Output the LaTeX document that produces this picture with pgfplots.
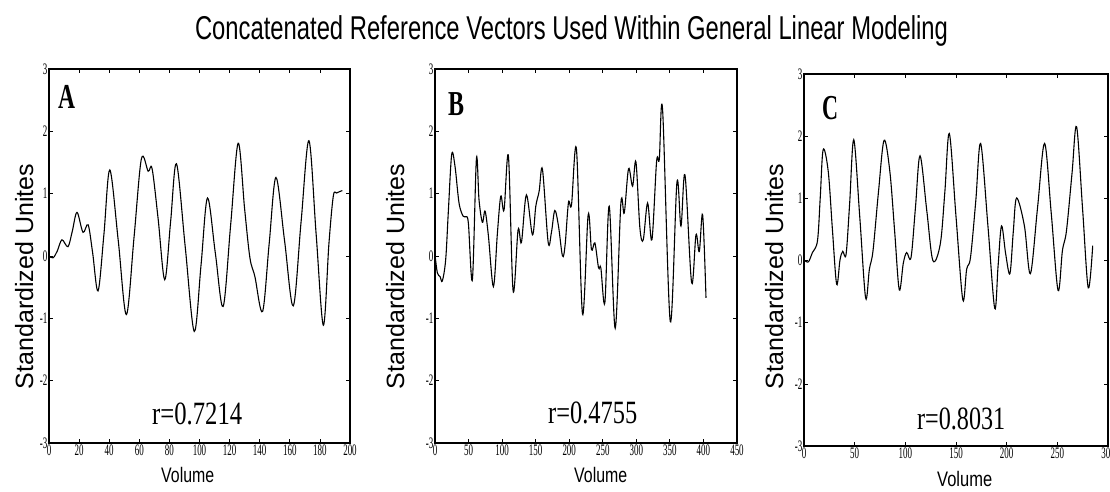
\documentclass[border=0pt]{standalone}
\usepackage{pgfplots}
\pgfplotsset{compat=1.18}
\usepackage{graphicx}
\usepackage{fontspec}
\setmainfont{Liberation Serif}
\newfontfamily\arial{Liberation Sans}
\newfontfamily\tickfont[FakeStretch=0.56]{Liberation Serif}

\pgfplotstableread{
x y
0 0.00
2.7 -0.03
5.5 0.08
8.6 0.26
12.6 0.15
15.5 0.40
18.6 0.70
22.6 0.38
26 0.50
29 0.05
32.6 -0.56
36.5 0.35
40.4 1.38
46 0.25
51.4 -0.94
56.5 0.30
61.4 1.56
65.9 1.36
68.5 1.40
72.5 0.60
76.9 -0.38
80.8 0.55
84.7 1.48
90.5 0.15
96.5 -1.21
101 -0.15
105.3 0.93
110.5 0.05
115.7 -0.81
120.7 0.50
125.7 1.81
130 0.75
133.5 -0.03
136.8 -0.33
141.9 -0.89
146.3 0.20
150.8 1.26
156.5 0.25
162.3 -0.80
167.5 0.55
172.7 1.85
177.5 0.35
182.3 -1.11
186 0.20
188.9 0.96
191.1 1.01
194.9 1.05
}\dataA

\pgfplotstableread{
x y
0 0.02
3.5 -0.27
7.5 -0.33
10.9 -0.40
15.9 -0.06
19.9 0.72
24.9 1.63
29.8 1.44
35.8 0.85
41.8 0.64
45.7 0.63
49.7 0.53
55.7 -0.38
61.7 1.56
65.6 0.90
70.6 0.54
74.6 0.72
79.6 0.32
87.0 -0.49
93 0.37
98 0.96
102.9 0.74
109.4 1.60
116.4 -0.56
123.8 0.42
128.8 0.22
136.2 0.98
145.2 0.34
150.2 0.80
155.2 1.04
160.1 1.39
168.6 0.22
173.5 0.38
178.5 0.73
184 0.48
190 0.00
193.9 0.18
198.9 0.86
203.4 0.82
210.8 1.71
219.8 -0.93
228.2 0.66
233.2 0.10
238.2 0.21
243.7 -0.19
247.1 -0.19
253.1 -0.75
259.6 0.80
268.5 -1.16
277 0.85
282 0.69
288.4 1.40
294.4 1.12
299.4 1.51
305.3 0.45
310.3 0.26
316.8 0.85
323.2 0.26
330.2 1.52
334.2 1.55
339.1 2.35
350.6 -1.05
360.5 1.18
366.5 0.48
372.5 1.30
382.4 -0.43
388.9 0.34
393.8 0.07
398.8 0.66
403.8 -0.67
}\dataB

\pgfplotstableread{
x y
0 0
4.3 -0.03
8.3 0.12
13.3 0.31
16 1.0
18.9 1.78
23.9 1.43
28 0.5
32.2 -0.39
35.5 0.0
38.2 0.14
41.5 0.09
45 0.9
49.1 1.94
55 0.7
60.8 -0.61
64.5 -0.15
68.1 0.15
73.5 1.1
79 1.93
84.7 1.43
89.5 0.45
94 -0.48
98 -0.05
101.3 0.12
105.6 0.04
110 0.85
114.5 1.68
121.2 0.79
127.2 -0.01
134.5 0.26
139 1.1
143.4 2.04
150 0.7
156.7 -0.64
160.5 -0.15
164.3 0.04
169.5 0.95
174.3 1.88
181.5 0.55
188.2 -0.78
191.5 -0.1
194.9 0.55
199 0.1
203.2 -0.22
206.5 0.45
209.8 1.00
217.5 0.55
223.4 -0.22
230.5 0.85
237.4 1.88
244 0.75
250.7 -0.49
255 0.15
259 0.47
264.5 1.4
269 2.15
275 0.8
280.5 -0.45
284.9 0.23
}\dataC

\pgfplotsset{
  panel/.style={
    anchor=south west,
    scale only axis,
    ymin=-3, ymax=3,
    ytick={-3,-2,-1,0,1,2,3},
    yticklabels={-3,-2,-1,0,1,2,3},
    tick align=inside,
    major tick length=4pt,
    axis line style={line width=1.1pt, black},
    every tick/.style={black, line width=0.8pt},
    tick label style={font=\tickfont\fontsize{16}{16}\selectfont, black},
    yticklabel style={inner sep=1.5pt},
    xticklabel style={inner sep=2pt},
    clip=true,
  },
  curve/.style={black, line width=1.1pt, smooth, tension=0.55, no markers},
}

\begin{document}
\begin{tikzpicture}[x=1pt,y=1pt]
\path[use as bounding box] (0,0) rectangle (1110,492);

% Title
\node[anchor=base] at (571.5,452) {\resizebox{753pt}{\height}{\arial\fontsize{33}{33}\selectfont Concatenated Reference Vectors Used Within General Linear Modeling}};

% Panel A
\begin{axis}[panel, at={(49pt,49pt)}, width=301pt, height=374pt,
  xmin=0, xmax=200, xtick={0,20,...,200},
  xticklabels={0,20,40,60,80,100,120,140,160,180,200}]
\addplot[curve] table[x=x,y=y] {\dataA};
\end{axis}

% Panel B
\begin{axis}[panel, at={(435pt,49pt)}, width=302pt, height=374pt,
  xmin=0, xmax=450, xtick={0,50,...,450},
  xticklabels={0,50,100,150,200,250,300,350,400,450}]
\addplot[curve] table[x=x,y=y] {\dataB};
\end{axis}

% Panel C
\begin{axis}[panel, at={(804pt,46pt)}, width=304pt, height=372pt,
  xmin=0, xmax=300, xtick={0,50,...,300},
  xticklabels={0,50,100,150,200,250,300}]
\addplot[curve] table[x=x,y=y] {\dataC};
\end{axis}

% Panel letters
\node[anchor=north west, inner sep=0pt] at (58,407) {\resizebox{17pt}{\height}{\bfseries\fontsize{35}{35}\selectfont A}};
\node[anchor=north west, inner sep=0pt] at (448,400) {\resizebox{16pt}{\height}{\bfseries\fontsize{35}{35}\selectfont B}};
\node[anchor=north west, inner sep=0pt] at (822,396) {\resizebox{16pt}{\height}{\bfseries\fontsize{35}{35}\selectfont C}};

% r values
\node[anchor=base west, inner sep=0pt] at (152,67) {\resizebox{90pt}{\height}{\fontsize{32.5}{32.5}\selectfont r=0.7214}};
\node[anchor=base west, inner sep=0pt] at (548,68) {\resizebox{89pt}{\height}{\fontsize{32.5}{32.5}\selectfont r=0.4755}};
\node[anchor=base west, inner sep=0pt] at (917,62) {\resizebox{88pt}{\height}{\fontsize{32.5}{32.5}\selectfont r=0.8031}};

% x labels
\node[anchor=base west, inner sep=0pt] at (161,9) {\resizebox{53pt}{\height}{\arial\fontsize{21}{21}\selectfont Volume}};
\node[anchor=base west, inner sep=0pt] at (574,9) {\resizebox{53pt}{\height}{\arial\fontsize{21}{21}\selectfont Volume}};
\node[anchor=base west, inner sep=0pt] at (937,5) {\resizebox{55pt}{\height}{\arial\fontsize{21}{21}\selectfont Volume}};

% y labels
\node[anchor=base, rotate=90, inner sep=0pt] at (33,215.5) {\arial\fontsize{25}{25}\selectfont Standardized Unites};
\node[anchor=base, rotate=90, inner sep=0pt] at (404,215.5) {\arial\fontsize{25}{25}\selectfont Standardized Unites};
\node[anchor=base, rotate=90, inner sep=0pt] at (783,215.5) {\arial\fontsize{25}{25}\selectfont Standardized Unites};
\end{tikzpicture}
\end{document}
